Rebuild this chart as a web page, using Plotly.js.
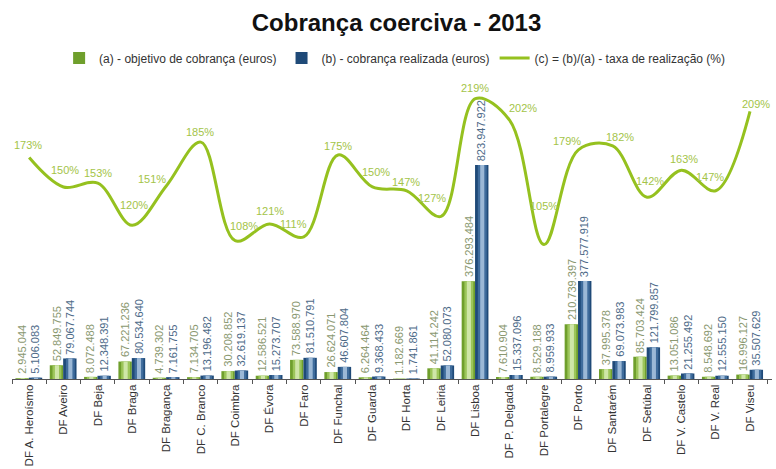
<!DOCTYPE html>
<html>
<head>
<meta charset="utf-8">
<script src="https://cdn.plot.ly/plotly-3.0.1.min.js"></script>
<style>html,body{margin:0;padding:0;background:#fff;}#chart{width:776px;height:469px;}</style>
</head>
<body>
<div id="chart"></div>
<script>
const categories = ["DF A. Heroísmo","DF Aveiro","DF Beja","DF Braga","DF Bragança","DF C. Branco","DF Coimbra","DF Évora","DF Faro","DF Funchal","DF Guarda","DF Horta","DF Leiria","DF Lisboa","DF P. Delgada","DF Portalegre","DF Porto","DF Santarém","DF Setúbal","DF V. Castelo","DF V. Real","DF Viseu"];
const objetivo = [2945044,52849755,8072488,67221236,4739302,7134705,30208852,12586521,73588970,26624071,6264464,1182669,41114242,376293484,7610904,8529188,210739397,37995378,85703424,13051086,8548692,16996127];
const realizada = [5106083,79067744,12348391,80534640,7161755,13196482,32619137,15273707,81510791,46607804,9368433,1741861,52080073,823947922,15337096,8959933,377577919,69073983,121799857,21255492,12555150,35507629];
const taxa = [173,150,153,120,151,185,108,121,111,175,150,147,127,219,202,105,179,182,142,163,147,209];
const seriesNames = ["(a) - objetivo de cobrança (euros)","(b) - cobrança realizada (euros)","(c) = (b)/(a) - taxa de realização (%)"];

// label offsets in px (style only)
const labelDX = [-1,2,0,2,-14,-1,9,1,-10,0,4,-1,-9,0,13,0,-11,7,3,3,-6,6];
const labelDY = [13,17,10,20,7,10,15,13,13,9,15,9,18,11,12,39,9,9,16,11,14,7];

const FONT = "Liberation Sans, Arial, sans-serif";
const W = 0.39;
const OFF_A = -0.40, OFF_B = -0.01;
const CAT_PX = 760 / categories.length;

function barLayer(vals, offset, width, color, opts) {
  return Object.assign({
    type: "bar", x: categories, y: vals, offset: offset, width: width,
    marker: {color: color, line: {width: 0}}, showlegend: false, hoverinfo: "skip"
  }, opts || {});
}

const traces = [
  barLayer(objetivo, OFF_A, W, "#6f9f2c", {name: seriesNames[0], showlegend: true}),
  barLayer(objetivo, OFF_A + 0.08, 0.26, "#9cc55a"),
  barLayer(objetivo, OFF_A + 0.15, 0.12, "#cfe6a8"),
  barLayer(realizada, OFF_B, W, "#1f4a78", {name: seriesNames[1], showlegend: true}),
  barLayer(realizada, OFF_B + 0.08, 0.26, "#3f6c9c"),
  barLayer(realizada, OFF_B + 0.15, 0.12, "#9bb8d6"),
  {
    type: "scatter", mode: "lines", x: categories, y: taxa, yaxis: "y2",
    name: seriesNames[2],
    line: {color: "#95c11f", width: 3, shape: "spline", smoothing: 1.0},
    hoverinfo: "skip"
  }
];

const fmt = v => v.toString().replace(/\B(?=(\d{3})+(?!\d))/g, ".");

function barLabels(vals, offset, color) {
  return categories.map((c, i) => ({
    x: c, y: vals[i], xref: "x", yref: "y",
    text: fmt(vals[i]), showarrow: false, textangle: -90,
    xanchor: "center", yanchor: "bottom",
    xshift: (offset + W / 2) * CAT_PX, yshift: 2,
    font: {family: FONT, size: 11, color: color}
  }));
}

const rateLabels = categories.map((c, i) => ({
  x: c, y: taxa[i], xref: "x", yref: "y2",
  text: taxa[i] + "%", showarrow: false,
  xanchor: "center", yanchor: "middle",
  xshift: labelDX[i], yshift: labelDY[i],
  font: {family: FONT, size: 11, color: "#a3c448"}
}));

const layout = {
  width: 776, height: 469,
  margin: {l: 12, r: 4, t: 73, b: 90, pad: 0},
  paper_bgcolor: "#ffffff", plot_bgcolor: "#ffffff",
  barmode: "overlay",
  font: {family: FONT, size: 11, color: "#333"},
  title: {
    text: "<b>Cobrança coerciva - 2013</b>",
    font: {family: FONT, size: 24, color: "#111"},
    x: 0.511, xref: "container", xanchor: "center",
    y: 0.951, yref: "container", yanchor: "middle"
  },
  legend: {
    orientation: "h", x: 0.062, xanchor: "left", y: 1.049, yanchor: "middle",
    font: {family: FONT, size: 12, color: "#333"},
    bgcolor: "rgba(0,0,0,0)", itemwidth: 30, traceorder: "normal"
  },
  xaxis: {
    type: "category", tickangle: -90,
    tickfont: {family: FONT, size: 11.5, color: "#333"},
    showline: true, linecolor: "#555", linewidth: 1,
    ticks: "outside", ticklen: 4, tickcolor: "#555", tickson: "boundaries",
    showgrid: false, zeroline: false, fixedrange: true
  },
  yaxis: {range: [0, 1178e6], visible: false, showgrid: false, zeroline: false},
  yaxis2: {range: [0, 239], overlaying: "y", side: "right", visible: false, showgrid: false, zeroline: false},
  annotations: barLabels(objetivo, OFF_A, "#8a9870")
    .concat(barLabels(realizada, OFF_B, "#4d6a88"))
    .concat(rateLabels),
  showlegend: true
};

Plotly.newPlot("chart", traces, layout, {displayModeBar: false, staticPlot: true});
</script>
</body>
</html>
